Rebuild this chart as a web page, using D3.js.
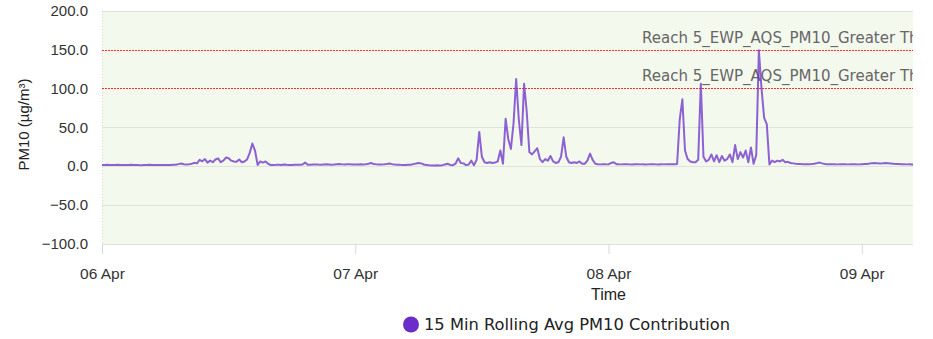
<!DOCTYPE html>
<html>
<head>
<meta charset="utf-8">
<script src="https://cdn.jsdelivr.net/npm/d3@7"></script>
<style>
  html, body { margin: 0; padding: 0; background: #fff; }
  svg { display: block; }
</style>
</head>
<body>
<svg id="chart" width="933" height="339"></svg>
<script>
// ---- data ----
const seriesName = "15 Min Rolling Avg PM10 Contribution";
const startTime = "2024-04-06T00:00:00Z";
const stepMinutes = 15;

// PM10 contribution (µg/m³), one reading every 15 minutes from 06 Apr 00:00
const pm10 = [
  1.5,1.4,1.6,1.5,1.3,1.4,1.6,1.5,1.4,1.3,1.5,1.6,1.4,1.5,1.3,1.2,1.4,1.5,1.6,1.4,1.3,1.5,1.4,1.3,
  1.4,1.5,1.3,1.6,1.8,2.5,3.2,2.4,2.0,2.2,3.0,4.2,3.5,8.0,6.2,9.0,4.5,7.0,5.0,8.5,10,5,7,11,
  10,7,6,5.5,8.5,5,6,8.5,17,29,20,1.5,6,4.5,6,3,1.3,1.5,1.6,1.8,1.5,2.0,1.6,1.4,
  1.5,1.7,1.6,1.8,2.0,4.5,1.6,1.8,2.0,2.2,1.9,1.7,2.0,2.3,2.1,1.8,2.0,2.4,2.6,2.2,2.0,2.3,2.5,2.1,
  2.2,2.0,2.3,2.1,2.4,3.0,4.0,2.6,2.2,2.0,2.1,2.3,2.6,3.2,2.5,2.0,1.8,1.6,1.5,1.4,1.6,1.8,2.5,3.2,
  4.0,3.5,2.0,1.5,1.0,0.8,0.8,1.0,0.9,1.2,2.0,3.0,1.5,1.2,3.0,10,4,3.5,1.2,2,7,1,8,44,
  12,5,4,5,4,4.5,6,20,3,61,35,22,55,112,60,27,106,70,18,15,19,23,9,5,
  9,7,13,6,4,5,12,37,12,5,4,5,4,6,3,3,7,16,8,3,2.5,2.2,2.5,2.3,
  2.2,4.0,5.0,2.5,2.3,2.2,2.4,2.3,2.2,2.1,2.3,2.4,2.2,2.3,2.1,2.2,2.4,2.3,2.2,2.1,2.3,2.2,2.4,2.3,
  2.3,2.4,2.6,60,86,20,9,6,5,5,8,106,12,6,8,15,6,14,5,13,7,9,15,5,
  27,9,18,11,20,5,24,3,14,149,100,62,54,2,7,5,7,6,8,5,5.5,4,3.5,3,
  2.8,2.6,2.5,2.4,2.5,2.6,3.0,3.8,4.5,3.5,2.8,2.5,2.4,2.5,2.3,2.2,2.4,2.5,2.3,2.2,2.4,2.5,2.3,2.2,
  2.4,2.6,2.8,3.2,3.8,4.0,3.5,3.2,3.6,4.1,3.8,3.4,3.0,2.8,2.6,2.4,2.3,2.2,2.3,2.1,2.2,2.0
];

const xDomain = ["2024-04-06T00:00:00Z", "2024-04-10T00:00:00Z"];
const xTickDates = ["2024-04-06T00:00:00Z", "2024-04-07T00:00:00Z", "2024-04-08T00:00:00Z", "2024-04-09T00:00:00Z"];
const yTicks = [-100, -50, 0, 50, 100, 150, 200];
const thresholdValues = [150, 100];
const thresholdLabels = [
  "Reach 5_EWP_AQS_PM10_Greater Than 150",
  "Reach 5_EWP_AQS_PM10_Greater Than 100"
];
const xTitle = "Time";
const yTitle = "PM10 (µg/m³)";

// ---- layout ----
const plotLeft = 102, plotTop = 11, plotBottom = 244;
const plotRight = 1115;      // full plot width of the chart
const viewRight = 913;       // visible edge of the chart container
const seriesColor = "#6a2fc9";
const axisFont = "'Liberation Sans', Arial, sans-serif";
const labelFont = "'DejaVu Sans', Verdana, sans-serif";

const svg = d3.select("#chart");

const x = d3.scaleUtc()
  .domain(xDomain.map(d => new Date(d)))
  .range([plotLeft, plotRight]);
const y = d3.scaleLinear()
  .domain([-100, 200])
  .range([plotBottom - 0.25, plotTop - 0.25]);

const t0 = new Date(startTime).getTime();
const points = pm10.map((v, i) => ({ t: new Date(t0 + i * stepMinutes * 60000), v }));

const defs = svg.append("defs");
defs.append("clipPath").attr("id", "plot-clip")
  .append("rect")
  .attr("x", plotLeft).attr("y", plotTop - 2)
  .attr("width", viewRight - plotLeft).attr("height", plotBottom - plotTop + 4);

// plot background
svg.append("rect")
  .attr("x", plotLeft).attr("y", plotTop)
  .attr("width", viewRight - plotLeft).attr("height", plotBottom - plotTop)
  .attr("fill", "#f4f9ee");

// horizontal grid (threshold rows carry the red plot lines instead)
svg.append("g")
  .selectAll("line")
  .data(yTicks.filter(v => !thresholdValues.includes(v)))
  .join("line")
  .attr("x1", plotLeft).attr("x2", viewRight)
  .attr("y1", d => Math.round(y(d)) + 0.5)
  .attr("y2", d => Math.round(y(d)) + 0.5)
  .attr("stroke", "#dfe3db")
  .attr("stroke-width", 1);

// dotted left edge
svg.append("line")
  .attr("x1", plotLeft + 0.5).attr("x2", plotLeft + 0.5)
  .attr("y1", plotTop).attr("y2", plotBottom)
  .attr("stroke", "#d6d9d3")
  .attr("stroke-dasharray", "1,2");

// x axis
const xAxis = d3.axisBottom(x)
  .tickValues(xTickDates.map(d => new Date(d)))
  .tickFormat(d3.utcFormat("%d %b"))
  .tickSize(10)
  .tickPadding(14);
const gx = svg.append("g")
  .attr("transform", `translate(0,${plotBottom})`)
  .call(xAxis);
gx.select(".domain").remove();
gx.selectAll(".tick line").attr("stroke", "#d8d8d8");
gx.selectAll(".tick text")
  .attr("fill", "#333")
  .style("font-family", axisFont)
  .style("font-size", "15.5px");

// y axis labels
const yAxis = d3.axisLeft(y)
  .tickValues(yTicks)
  .tickFormat(d3.format(".1f"))
  .tickSize(0)
  .tickPadding(plotLeft - 88);
const gy = svg.append("g")
  .attr("transform", `translate(${plotLeft},0)`)
  .call(yAxis);
gy.select(".domain").remove();
gy.selectAll(".tick text")
  .attr("fill", "#333")
  .style("font-family", axisFont)
  .style("font-size", "15px");

// axis titles
svg.append("text")
  .attr("x", (plotLeft + plotRight) / 2)
  .attr("y", 300)
  .attr("text-anchor", "middle")
  .attr("fill", "#222")
  .style("font-family", axisFont)
  .style("font-size", "16px")
  .text(xTitle);

svg.append("text")
  .attr("transform", `translate(29,${(plotTop + plotBottom) / 2 - 3}) rotate(-90)`)
  .attr("text-anchor", "middle")
  .attr("fill", "#222")
  .style("font-family", axisFont)
  .style("font-size", "15px")
  .text(yTitle);

// threshold lines and their labels
const thr = svg.append("g").attr("clip-path", "url(#plot-clip)");
thr.selectAll("line")
  .data(thresholdValues)
  .join("line")
  .attr("x1", plotLeft).attr("x2", plotRight)
  .attr("y1", d => Math.round(y(d)) + 0.5)
  .attr("y2", d => Math.round(y(d)) + 0.5)
  .attr("stroke", "#ff2a2a")
  .attr("stroke-width", 1)
  .attr("stroke-dasharray", "2,1");
thr.selectAll("text")
  .data(thresholdValues)
  .join("text")
  .attr("x", 642)
  .attr("y", d => y(d) - 7)
  .attr("fill", "#666")
  .style("font-family", labelFont)
  .style("font-size", "15px")
  .text((d, i) => thresholdLabels[i]);

// series line
const line = d3.line()
  .x(d => x(d.t))
  .y(d => y(d.v));
svg.append("g").attr("clip-path", "url(#plot-clip)")
  .append("path")
  .datum(points)
  .attr("d", line)
  .attr("fill", "none")
  .attr("stroke", seriesColor)
  .attr("stroke-opacity", 0.75)
  .attr("stroke-width", 2)
  .attr("stroke-linejoin", "round");

// legend
const legend = svg.append("g").attr("transform", "translate(411,324.5)");
legend.append("circle")
  .attr("r", 8)
  .attr("fill", seriesColor);
legend.append("text")
  .attr("x", 13)
  .attr("y", 0)
  .attr("dy", "0.35em")
  .attr("fill", "#222")
  .style("font-family", labelFont)
  .style("font-size", "16.3px")
  .text(seriesName);
</script>
</body>
</html>
